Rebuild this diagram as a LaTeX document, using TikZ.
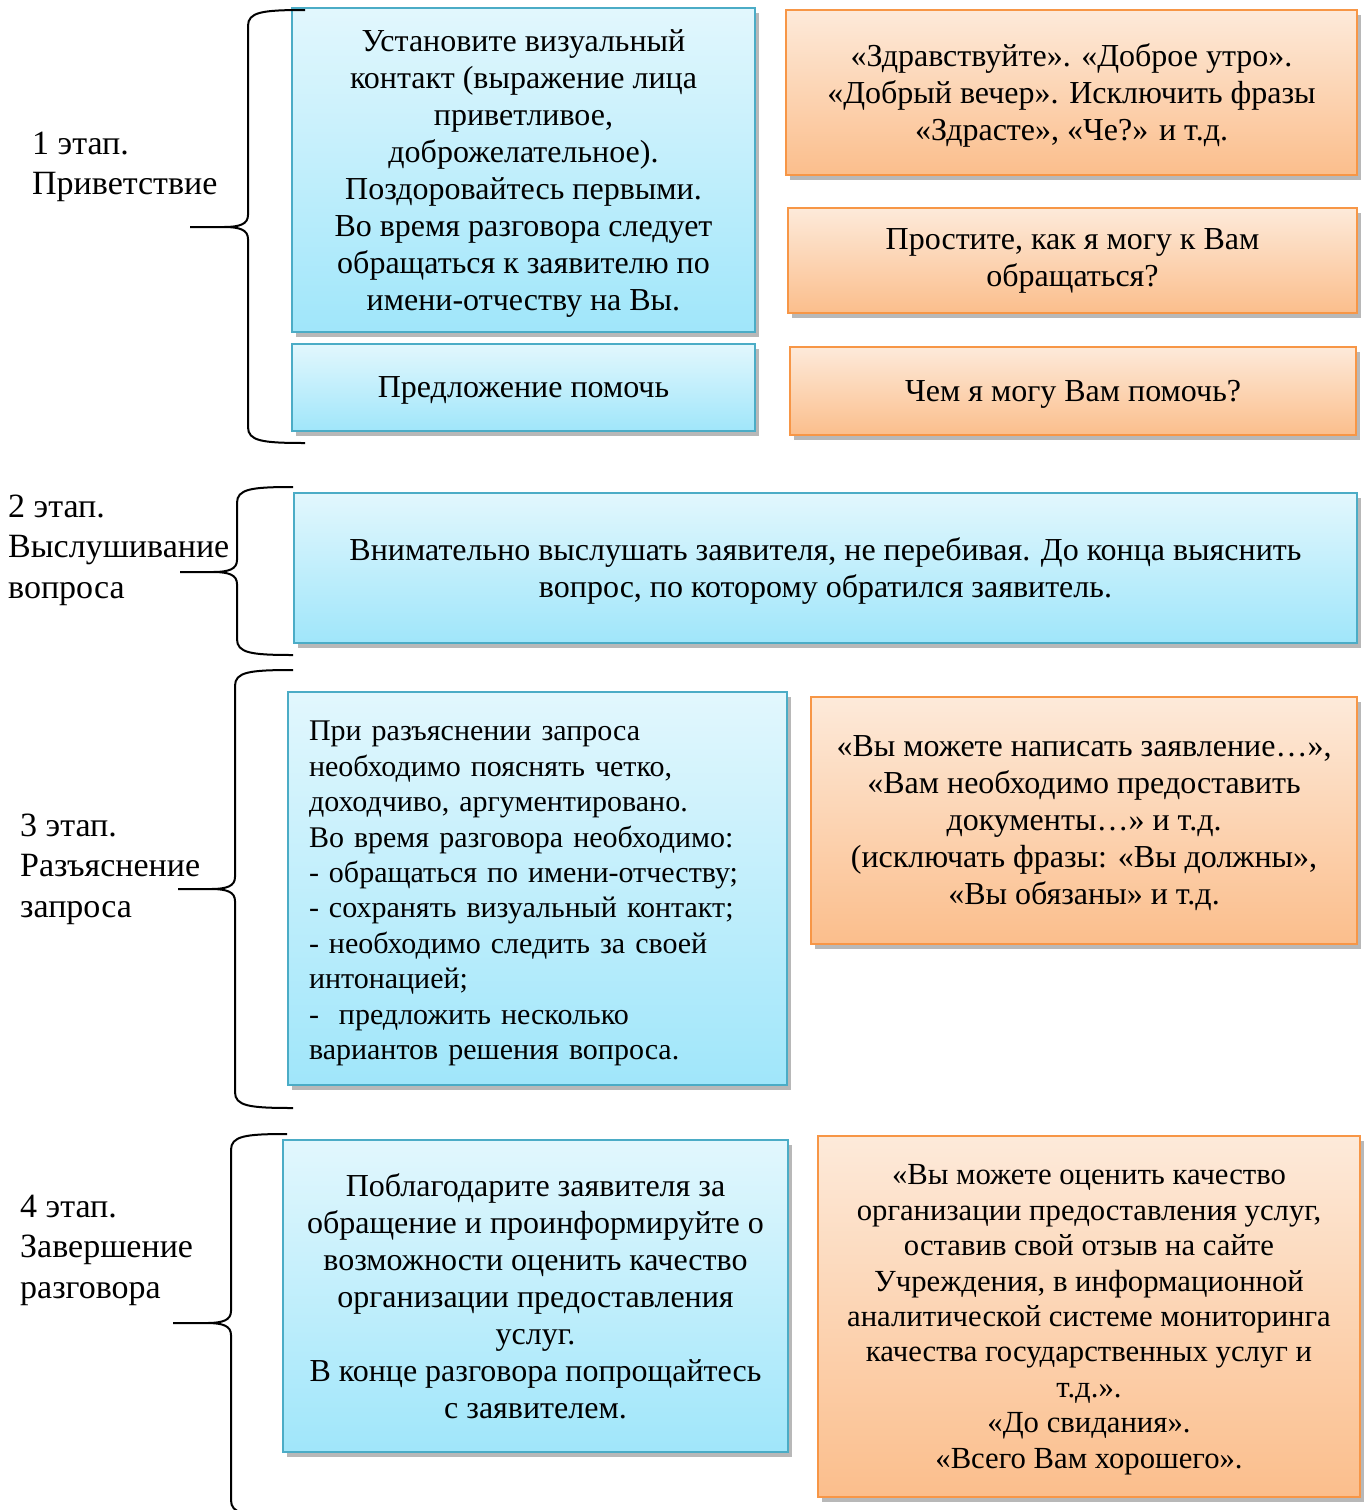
\documentclass[tikz,border=0pt]{standalone}
\usepackage{fontspec}
\setmainfont{Liberation Serif}
\usetikzlibrary{shadows}
\definecolor{bluetop}{RGB}{226,247,253}
\definecolor{bluebot}{RGB}{160,230,250}
\definecolor{blueline}{RGB}{75,172,198}
\definecolor{orangetop}{RGB}{253,234,218}
\definecolor{orangebot}{RGB}{251,190,140}
\definecolor{orangeline}{RGB}{247,150,70}
\tikzset{
  boxbase/.style={rectangle, line width=2pt, inner sep=0pt, align=center, text depth=0pt,
    font=\fontsize{32}{37}\selectfont,
    drop shadow={shadow xshift=4pt, shadow yshift=-5pt, fill=black, opacity=0.28}},
  bluebox/.style={boxbase, draw=blueline, top color=bluetop, bottom color=bluebot},
  orangebox/.style={boxbase, draw=orangeline, top color=orangetop, bottom color=orangebot},
  stagelabel/.style={anchor=west, align=left, inner sep=0pt,
    font=\fontsize{34}{40.5}\selectfont},
  bracestyle/.style={draw=black, line width=2pt}
}
% \stagebrace{vx}{ex}{ytop}{tipx}{tipy}{ybot}
\newcommand{\stagebrace}[6]{%
  \draw[bracestyle] (#2,#3) .. controls (#1+14,#3) and (#1,#3+2) .. (#1,#3+16)
    -- (#1,#5-12) .. controls (#1,#5-3) and (#1-8,#5) .. (#1-24,#5) -- (#4,#5)
    (#1-24,#5) .. controls (#1-8,#5) and (#1,#5+3) .. (#1,#5+12)
    -- (#1,#6-16) .. controls (#1,#6-2) and (#1+14,#6) .. (#2,#6);}
\begin{document}
\begin{tikzpicture}[x=1pt,y=-1pt]
\useasboundingbox[fill=white] (0,0) rectangle (1368,1510);

% Stage 1
\node[bluebox, minimum width=463, minimum height=324] (a1) at (523.5,170)
  {Установите визуальный\\контакт (выражение лица\\приветливое,\\доброжелательное).\\Поздоровайтесь первыми.\\Во время разговора следует\\обращаться к заявителю по\\имени-отчеству на Вы.};
\node[bluebox, minimum width=463, minimum height=87] (a2) at (523.5,387.5)
  {Предложение помочь};
\node[orangebox, minimum width=571, minimum height=165] (b1) at (1071.5,92.5)
  {«Здравствуйте». «Доброе утро».\\«Добрый вечер». Исключить фразы\\«Здрасте», «Че?» и т.д.};
\node[orangebox, minimum width=569, minimum height=105, text depth=] (b2) at (1072.5,260.5)
  {Простите, как я могу к Вам\\обращаться?};
\node[orangebox, minimum width=566, minimum height=88] (b3) at (1073,391)
  {Чем я могу Вам помочь?};

% Stage 2
\node[bluebox, minimum width=1063, minimum height=150] (c) at (825.5,568)
  {Внимательно выслушать заявителя, не перебивая. До конца выяснить\\вопрос, по которому обратился заявитель.};

% Stage 3
\node[bluebox, minimum width=499, minimum height=393] (d) at (537.5,888.5) {};
\node[align=left, text width=457, inner sep=0pt, anchor=center,
  font=\fontsize{30}{35.4}\selectfont] (dtext) at ([yshift=-5pt]d.center)
  {При разъяснении запроса\\необходимо пояснять четко,\\доходчиво, аргументировано.\\Во время разговора необходимо:\\- обращаться по имени-отчеству;\\- сохранять визуальный контакт;\\- необходимо следить за своей\\интонацией;\\-\ \ предложить несколько\\вариантов решения вопроса.};
\node[orangebox, minimum width=546, minimum height=247] (e) at (1084,820.5)
  {«Вы можете написать заявление…»,\\«Вам необходимо предоставить\\документы…» и т.д.\\(исключать фразы: «Вы должны»,\\«Вы обязаны» и т.д.};

% Stage 4
\node[bluebox, minimum width=505, minimum height=312, text depth=] (f) at (535.5,1296)
  {Поблагодарите заявителя за\\обращение и проинформируйте о\\возможности оценить качество\\организации предоставления\\услуг.\\В конце разговора попрощайтесь\\с заявителем.};
\node[orangebox, minimum width=542, minimum height=361, font=\fontsize{30.7}{35.4}\selectfont] (g) at (1089,1316.5)
  {«Вы можете оценить качество\\организации предоставления услуг,\\оставив свой отзыв на сайте\\Учреждения, в информационной\\аналитической системе мониторинга\\качества государственных услуг и\\т.д.».\\«До свидания».\\«Всего Вам хорошего».};

% Stage labels
\node[stagelabel] (l1) at (32,167) {1 этап.\\Приветствие};
\node[stagelabel] (l2) at (8,550) {2 этап.\\Выслушивание\\вопроса};
\node[stagelabel] (l3) at (20,869) {3 этап.\\Разъяснение\\запроса};
\node[stagelabel] (l4) at (20,1250) {4 этап.\\Завершение\\разговора};

% Braces
\stagebrace{248}{305}{10}{190}{227}{443}
\stagebrace{237}{293}{487}{180}{572}{655}
\stagebrace{235}{293}{670}{178}{889}{1108}
\stagebrace{231}{287}{1134}{173}{1323}{1516}
\end{tikzpicture}
\end{document}
